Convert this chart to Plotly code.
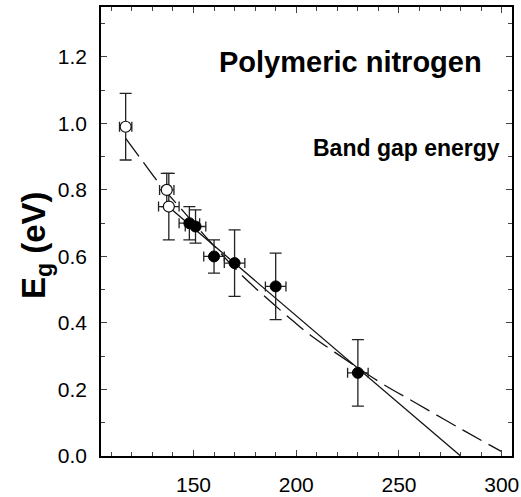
import plotly.graph_objects as go

# Open circles
open_x = [117, 137, 138]
open_y = [0.99, 0.80, 0.75]
open_ex = [3, 3.5, 5]
open_ey = [0.10, 0.05, 0.10]

# Filled circles
fill_x = [148, 151, 160, 170, 190, 230]
fill_y = [0.70, 0.69, 0.60, 0.58, 0.51, 0.25]
fill_ex = [5, 5, 5, 5, 5, 5]
fill_ey = [0.05, 0.05, 0.05, 0.10, 0.10, 0.10]

# Solid linear fit (end points)
solid_x = [136, 280]
solid_y = [0.759, 0.0]

# Dashed fit curve
dash_x = [117, 124.2, 133.9, 145.3, 158, 172.6, 185.7, 197.9, 206.8, 230, 242.5, 258.6, 281.4, 300]
dash_y = [0.955, 0.895, 0.815, 0.734, 0.645, 0.549, 0.474, 0.409, 0.364, 0.265, 0.215, 0.158, 0.077, 0.013]

x_ticks = [150, 200, 250, 300]
y_ticks = [0.0, 0.2, 0.4, 0.6, 0.8, 1.0, 1.2]

FONT = "Liberation Sans, Arial, sans-serif"
ink = "#111111"

fig = go.Figure()

fig.add_trace(go.Scatter(x=dash_x, y=dash_y, mode="lines",
                         line=dict(color=ink, width=1.3, dash="22px,8px", shape="spline"),
                         hoverinfo="skip", showlegend=False))
fig.add_trace(go.Scatter(x=solid_x, y=solid_y, mode="lines",
                         line=dict(color=ink, width=1.3),
                         hoverinfo="skip", showlegend=False))

fig.add_trace(go.Scatter(
    x=open_x, y=open_y, mode="markers",
    marker=dict(symbol="circle", size=11, color="white", line=dict(color=ink, width=1.2)),
    error_x=dict(type="data", array=open_ex, color="#222", thickness=1.3, width=5),
    error_y=dict(type="data", array=open_ey, color="#222", thickness=1.3, width=6),
    showlegend=False))

fig.add_trace(go.Scatter(
    x=fill_x, y=fill_y, mode="markers",
    marker=dict(symbol="circle", size=11, color="black", line=dict(color="black", width=1)),
    error_x=dict(type="data", array=fill_ex, color="#222", thickness=1.3, width=5),
    error_y=dict(type="data", array=fill_ey, color="#222", thickness=1.3, width=6),
    showlegend=False))

axis_common = dict(
    showline=True, linecolor="black", linewidth=1.5, mirror="ticks",
    ticks="inside", tickcolor="#444", ticklen=6, tickwidth=1.3,
    showgrid=False, zeroline=False, automargin=False,
    tickfont=dict(family=FONT, size=21, color="black"),
)

fig.update_xaxes(range=[105, 305], tickvals=x_ticks, ticktext=[str(v) for v in x_ticks],
                 minor=dict(ticks="inside", dtick=10, tick0=0, ticklen=4, tickcolor="#444", tickwidth=1),
                 ticklabelstandoff=9, **axis_common)
fig.update_yaxes(range=[0, 1.35], tickvals=y_ticks, ticktext=[f"{v:.1f}" for v in y_ticks],
                 minor=dict(ticks="inside", dtick=0.1, tick0=0, ticklen=4, tickcolor="#444", tickwidth=1),
                 ticklabelstandoff=8, **axis_common)

fig.add_annotation(text="<b>Polymeric nitrogen</b>", x=226.6, y=1.184, xref="x", yref="y",
                   xanchor="center", yanchor="middle",
                   showarrow=False, font=dict(family=FONT, size=29, color="black"))
fig.add_annotation(text="<b>Band gap energy</b>", x=253.8, y=0.926, xref="x", yref="y",
                   xanchor="center", yanchor="middle",
                   showarrow=False, font=dict(family=FONT, size=23, color="black"))
fig.add_annotation(text="<b>E<sub>g</sub> (eV)</b>", x=-0.158, y=0.47, xref="paper", yref="paper",
                   xanchor="center", yanchor="middle",
                   textangle=-90, showarrow=False, font=dict(family=FONT, size=33, color="black"))

fig.update_layout(
    width=521, height=497,
    margin=dict(l=101, r=9, t=7, b=41),
    paper_bgcolor="white", plot_bgcolor="white",
    showlegend=False,
)

fig.write_html("out.html", config={"displayModeBar": False},
               post_script="document.body.style.margin='0';document.body.style.overflow='hidden';")
